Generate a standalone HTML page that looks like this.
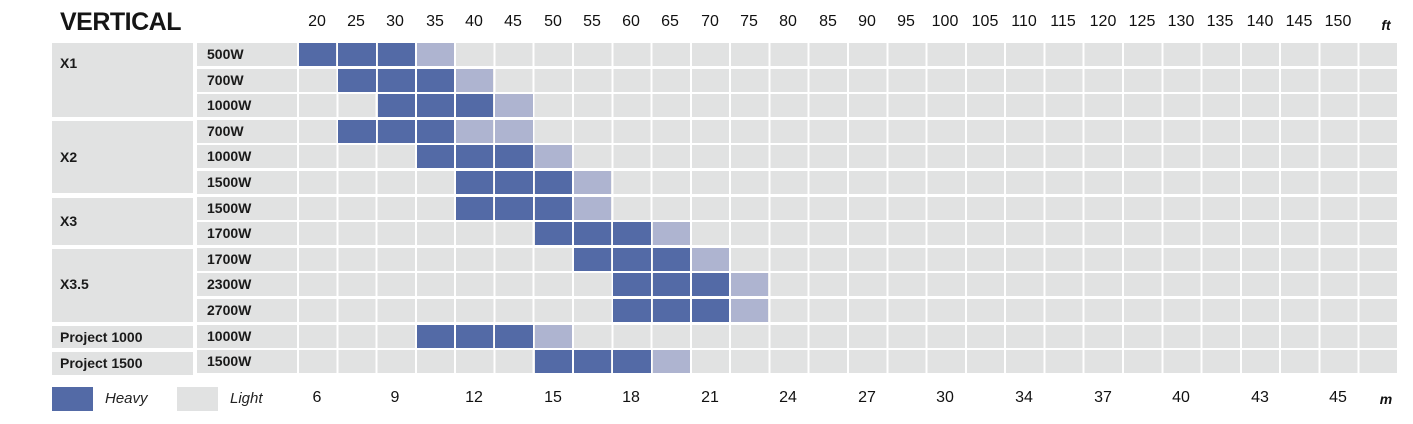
<!DOCTYPE html>
<html><head><meta charset="utf-8"><style>
body{margin:0;width:1413px;height:424px;background:#fff;position:relative;overflow:hidden;font-family:"Liberation Sans",Arial,sans-serif;}
div{position:absolute;box-sizing:border-box;}
.t{font-size:16px;color:#111;text-align:center;width:40px;top:13px;}
.m{font-size:16px;color:#111;text-align:center;width:40px;top:389px;}
.g{background:#e1e2e2;}
.row{left:299px;width:1100px;height:23px;background:repeating-linear-gradient(to right,#e1e2e2 0,#e1e2e2 37.3px,#fff 37.3px,#fff 39.286px);}
.w{left:197px;width:100px;height:23px;background:#e1e2e2;font-weight:bold;font-size:14px;padding-left:10px;line-height:23px;color:#1a1a1a;}
.n{left:52px;width:141px;background:#e1e2e2;font-weight:bold;font-size:14px;padding-left:8px;color:#1a1a1a;}
.h{background:#536aa6;height:23px;width:37.3px;}
.l{background:#aeb4d0;height:23px;width:37.3px;}
</style></head><body>
<div style="left:60px;top:8px;font-size:25px;font-weight:bold;color:#151515;letter-spacing:-0.5px;">VERTICAL</div>
<div class="t" style="left:297px">20</div><div class="t" style="left:336px">25</div><div class="t" style="left:375px">30</div><div class="t" style="left:415px">35</div><div class="t" style="left:454px">40</div><div class="t" style="left:493px">45</div><div class="t" style="left:533px">50</div><div class="t" style="left:572px">55</div><div class="t" style="left:611px">60</div><div class="t" style="left:650px">65</div><div class="t" style="left:690px">70</div><div class="t" style="left:729px">75</div><div class="t" style="left:768px">80</div><div class="t" style="left:808px">85</div><div class="t" style="left:847px">90</div><div class="t" style="left:886px">95</div><div class="t" style="left:925px">100</div><div class="t" style="left:965px">105</div><div class="t" style="left:1004px">110</div><div class="t" style="left:1043px">115</div><div class="t" style="left:1083px">120</div><div class="t" style="left:1122px">125</div><div class="t" style="left:1161px">130</div><div class="t" style="left:1200px">135</div><div class="t" style="left:1240px">140</div><div class="t" style="left:1279px">145</div><div class="t" style="left:1318px">150</div>
<div class="t" style="left:1366px;font-style:italic;font-weight:bold;font-size:14px;top:17px">ft</div>

<div class="n" style="top:43px;height:74px;padding-top:12px">X1</div>
<div class="n" style="top:121px;height:72px;line-height:72px">X2</div>
<div class="n" style="top:198px;height:47px;line-height:47px">X3</div>
<div class="n" style="top:249px;height:73px;line-height:70px">X3.5</div>
<div class="n" style="top:326px;height:22px;line-height:22px">Project 1000</div>
<div class="n" style="top:352px;height:23px;line-height:23px">Project 1500</div>

<div class="w" style="top:43px">500W</div><div class="row" style="top:43px"></div>
<div class="w" style="top:69px">700W</div><div class="row" style="top:69px"></div>
<div class="w" style="top:94px">1000W</div><div class="row" style="top:94px"></div>
<div class="w" style="top:120px">700W</div><div class="row" style="top:120px"></div>
<div class="w" style="top:145px">1000W</div><div class="row" style="top:145px"></div>
<div class="w" style="top:171px">1500W</div><div class="row" style="top:171px"></div>
<div class="w" style="top:197px">1500W</div><div class="row" style="top:197px"></div>
<div class="w" style="top:222px">1700W</div><div class="row" style="top:222px"></div>
<div class="w" style="top:248px">1700W</div><div class="row" style="top:248px"></div>
<div class="w" style="top:273px">2300W</div><div class="row" style="top:273px"></div>
<div class="w" style="top:299px">2700W</div><div class="row" style="top:299px"></div>
<div class="w" style="top:325px">1000W</div><div class="row" style="top:325px"></div>
<div class="w" style="top:350px">1500W</div><div class="row" style="top:350px"></div>

<!-- row 0 -->
<div class="h" style="top:43px;left:299px"></div><div class="h" style="top:43px;left:338.3px"></div><div class="h" style="top:43px;left:377.6px"></div><div class="l" style="top:43px;left:416.9px"></div>
<!-- row 1 -->
<div class="h" style="top:69px;left:338.3px"></div><div class="h" style="top:69px;left:377.6px"></div><div class="h" style="top:69px;left:416.9px"></div><div class="l" style="top:69px;left:456.1px"></div>
<!-- row 2 -->
<div class="h" style="top:94px;left:377.6px"></div><div class="h" style="top:94px;left:416.9px"></div><div class="h" style="top:94px;left:456.1px"></div><div class="l" style="top:94px;left:495.4px"></div>
<!-- row 3 -->
<div class="h" style="top:120px;left:338.3px"></div><div class="h" style="top:120px;left:377.6px"></div><div class="h" style="top:120px;left:416.9px"></div><div class="l" style="top:120px;left:456.1px"></div><div class="l" style="top:120px;left:495.4px"></div>
<!-- row 4 -->
<div class="h" style="top:145px;left:416.9px"></div><div class="h" style="top:145px;left:456.1px"></div><div class="h" style="top:145px;left:495.4px"></div><div class="l" style="top:145px;left:534.7px"></div>
<!-- row 5 -->
<div class="h" style="top:171px;left:456.1px"></div><div class="h" style="top:171px;left:495.4px"></div><div class="h" style="top:171px;left:534.7px"></div><div class="l" style="top:171px;left:574px"></div>
<!-- row 6 -->
<div class="h" style="top:197px;left:456.1px"></div><div class="h" style="top:197px;left:495.4px"></div><div class="h" style="top:197px;left:534.7px"></div><div class="l" style="top:197px;left:574px"></div>
<!-- row 7 -->
<div class="h" style="top:222px;left:534.7px"></div><div class="h" style="top:222px;left:574px"></div><div class="h" style="top:222px;left:613.3px"></div><div class="l" style="top:222px;left:652.6px"></div>
<!-- row 8 -->
<div class="h" style="top:248px;left:574px"></div><div class="h" style="top:248px;left:613.3px"></div><div class="h" style="top:248px;left:652.6px"></div><div class="l" style="top:248px;left:691.9px"></div>
<!-- row 9 -->
<div class="h" style="top:273px;left:613.3px"></div><div class="h" style="top:273px;left:652.6px"></div><div class="h" style="top:273px;left:691.9px"></div><div class="l" style="top:273px;left:731.1px"></div>
<!-- row 10 -->
<div class="h" style="top:299px;left:613.3px"></div><div class="h" style="top:299px;left:652.6px"></div><div class="h" style="top:299px;left:691.9px"></div><div class="l" style="top:299px;left:731.1px"></div>
<!-- row 11 -->
<div class="h" style="top:325px;left:416.9px"></div><div class="h" style="top:325px;left:456.1px"></div><div class="h" style="top:325px;left:495.4px"></div><div class="l" style="top:325px;left:534.7px"></div>
<!-- row 12 -->
<div class="h" style="top:350px;left:534.7px"></div><div class="h" style="top:350px;left:574px"></div><div class="h" style="top:350px;left:613.3px"></div><div class="l" style="top:350px;left:652.6px"></div>

<div style="left:52px;top:387px;width:41px;height:24px;background:#536aa6"></div>
<div style="left:105px;top:390px;font-size:15px;font-style:italic;color:#222">Heavy</div>
<div style="left:177px;top:387px;width:41px;height:24px;background:#e1e2e2"></div>
<div style="left:230px;top:390px;font-size:15px;font-style:italic;color:#222">Light</div>

<div class="m" style="left:297px">6</div><div class="m" style="left:375px">9</div><div class="m" style="left:454px">12</div><div class="m" style="left:533px">15</div><div class="m" style="left:611px">18</div><div class="m" style="left:690px">21</div><div class="m" style="left:768px">24</div><div class="m" style="left:847px">27</div><div class="m" style="left:925px">30</div><div class="m" style="left:1004px">34</div><div class="m" style="left:1083px">37</div><div class="m" style="left:1161px">40</div><div class="m" style="left:1240px">43</div><div class="m" style="left:1318px">45</div>
<div class="m" style="left:1366px;font-style:italic;font-weight:bold;font-size:14px;top:391px">m</div>
</body></html>
